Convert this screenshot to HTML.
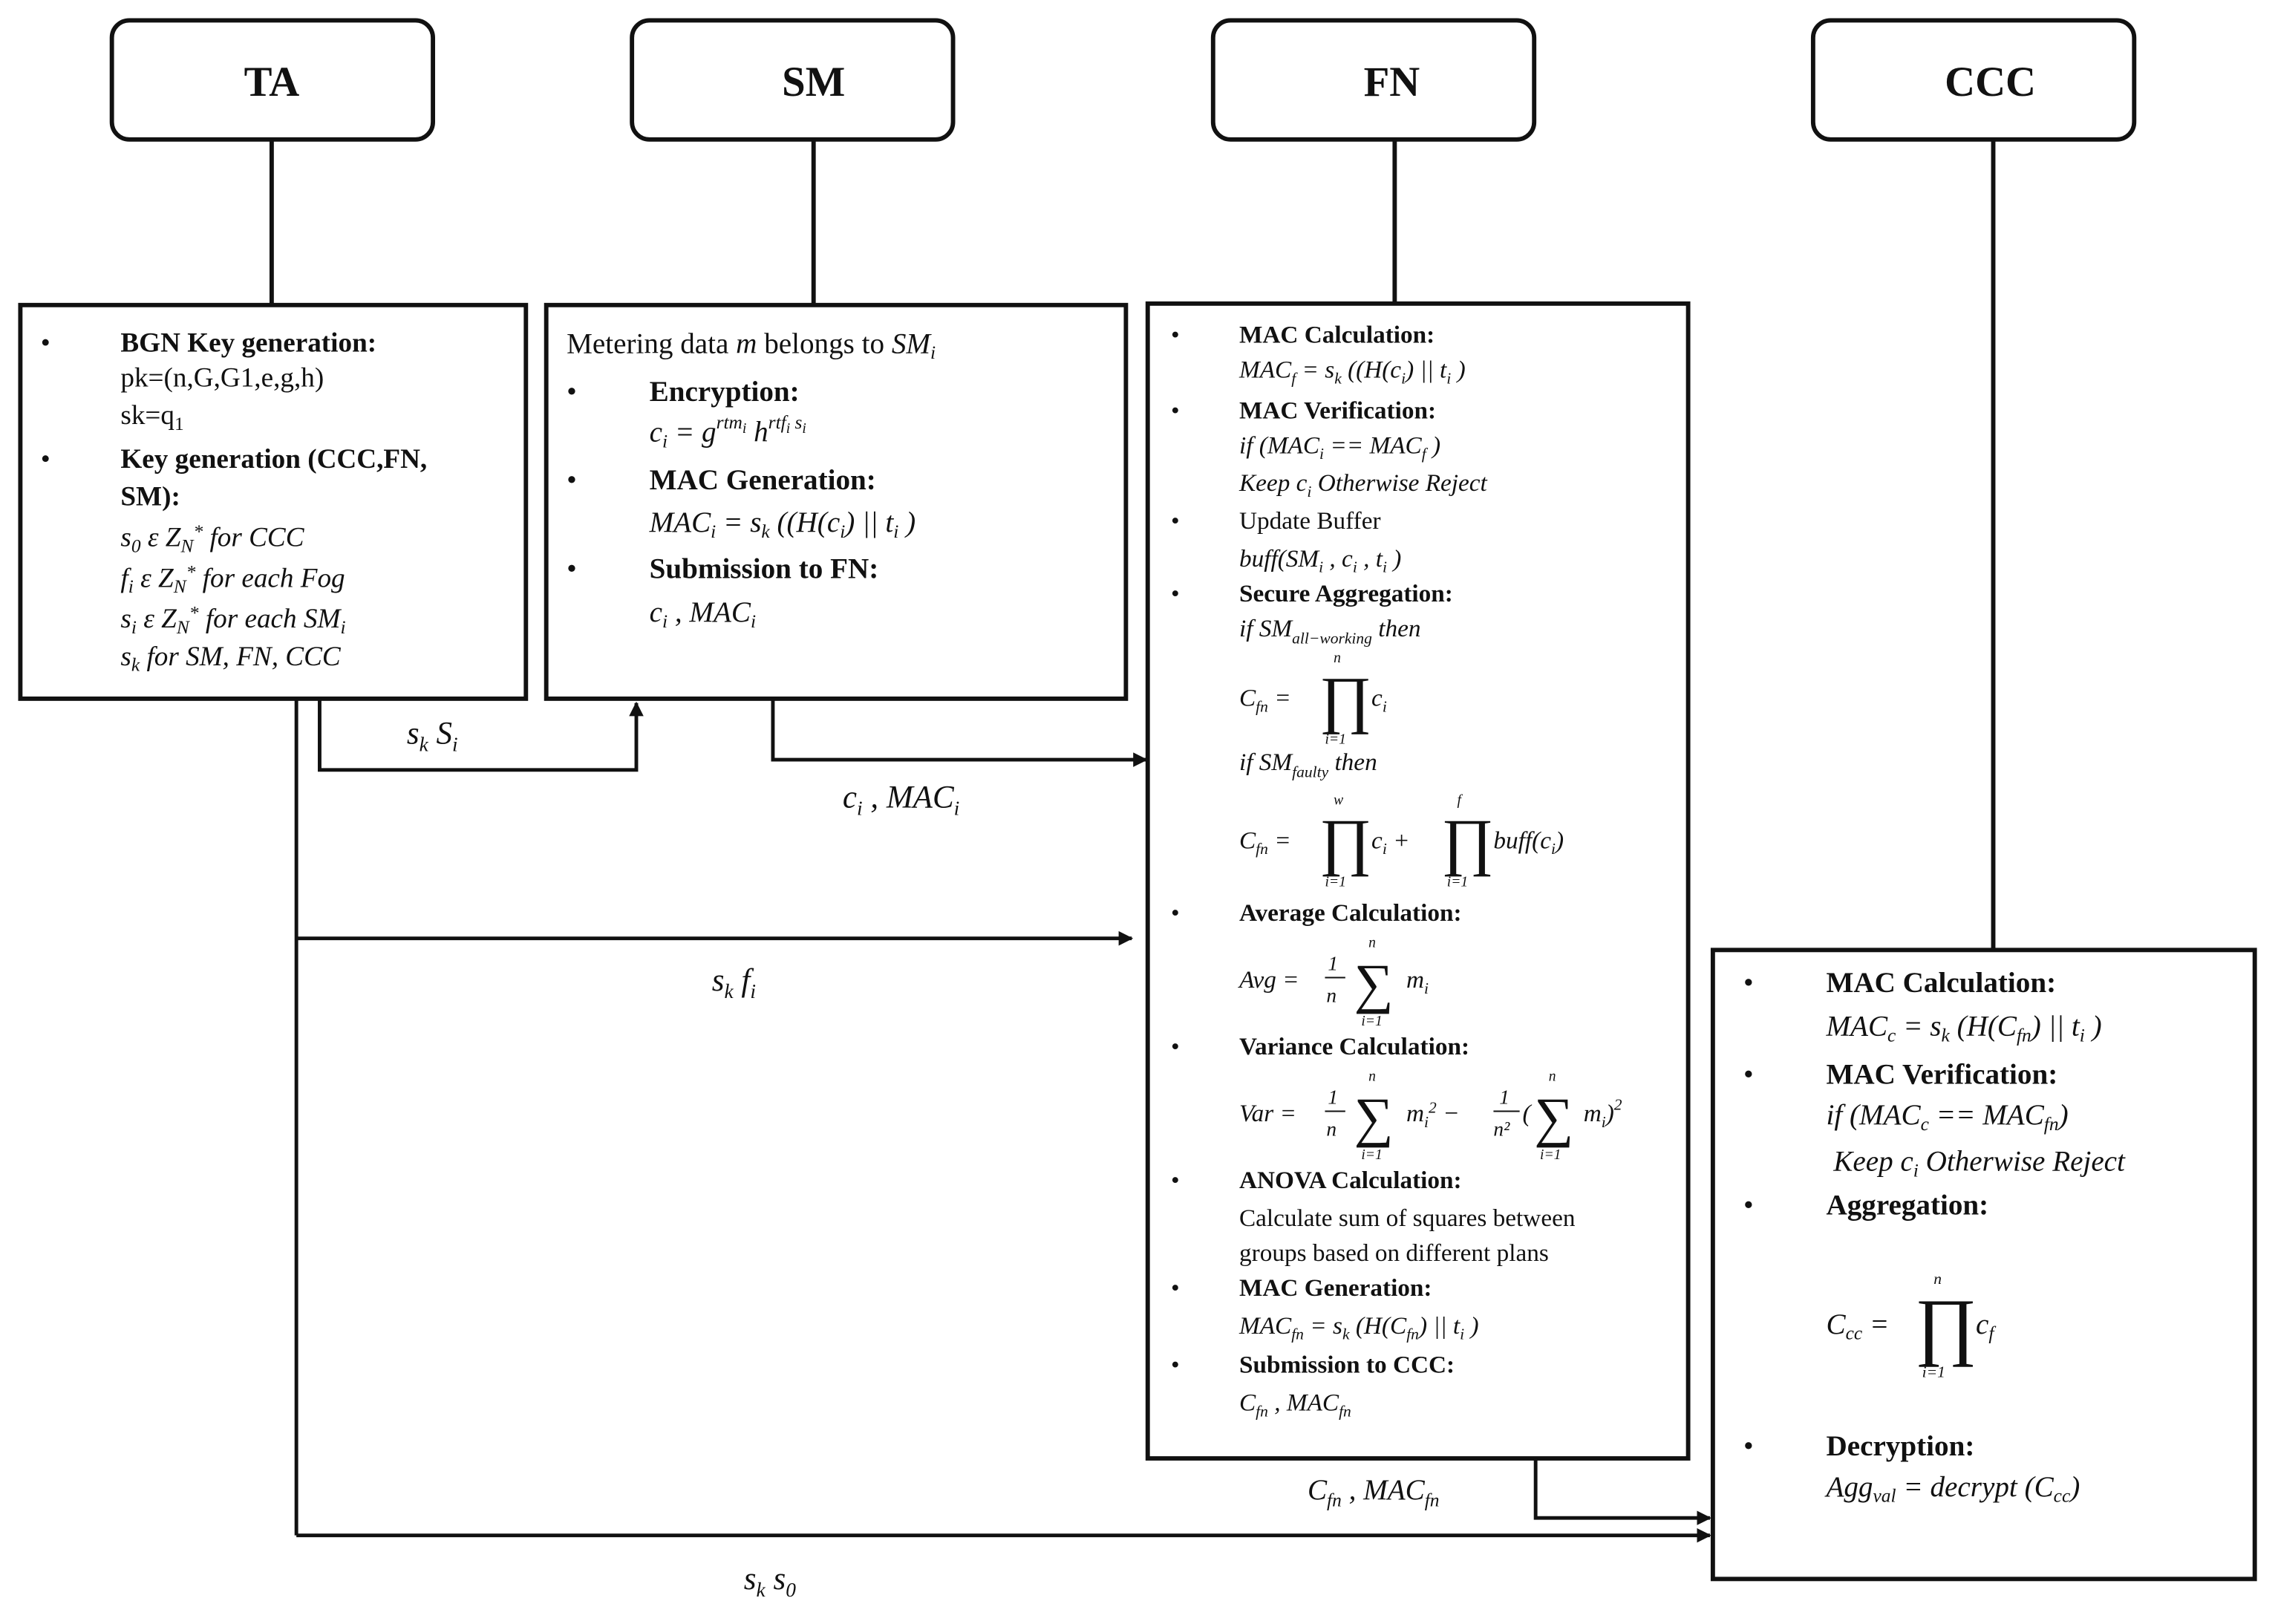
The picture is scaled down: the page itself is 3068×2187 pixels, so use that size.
<!DOCTYPE html>
<html><head><meta charset="utf-8"><style>
html,body{margin:0;padding:0;background:#fff;}
svg{display:block;}
text{font-family:"Liberation Serif",serif;fill:#111;}
.h{font-size:29px;font-weight:bold;}
.b{font-weight:bold;}
.m{font-style:italic;}
</style></head><body>
<svg width="3068" height="2187" viewBox="0 0 1568 1118" preserveAspectRatio="none" xmlns="http://www.w3.org/2000/svg">
<defs><marker id="a" markerWidth="10" markerHeight="10" refX="9" refY="5" orient="auto" markerUnits="userSpaceOnUse"><path d="M0,0 L10,5 L0,10 z" fill="#111"/></marker></defs>
<g fill="none" stroke="#111" stroke-width="3">
<rect x="77" y="14" width="221" height="82" rx="12"/>
<rect x="435" y="14" width="221" height="82" rx="12"/>
<rect x="835" y="14" width="221" height="82" rx="12"/>
<rect x="1248" y="14" width="221" height="82" rx="12"/>
<line x1="187" y1="96" x2="187" y2="210"/>
<line x1="560" y1="96" x2="560" y2="210"/>
<line x1="960" y1="96" x2="960" y2="209"/>
<line x1="1372" y1="96" x2="1372" y2="654"/>
<rect x="14" y="210" width="348" height="271"/>
<rect x="376" y="210" width="399" height="271"/>
<rect x="790" y="209" width="372" height="795"/>
<rect x="1179" y="654" width="373" height="433"/>
</g>
<g fill="none" stroke="#111" stroke-width="2.5">
<polyline points="220,481 220,530 438,530 438,484" marker-end="url(#a)"/>
<polyline points="532,481 532,523 789,523" marker-end="url(#a)"/>
<line x1="204" y1="481" x2="204" y2="1057"/>
<line x1="204" y1="646" x2="779" y2="646" marker-end="url(#a)"/>
<line x1="204" y1="1057" x2="1177" y2="1057" marker-end="url(#a)"/>
<polyline points="1057,1004 1057,1045 1177,1045" marker-end="url(#a)"/>
</g>
<text class="h" x="187" y="66" text-anchor="middle">TA</text>
<text class="h" x="560" y="66" text-anchor="middle">SM</text>
<text class="h" x="958" y="66" text-anchor="middle">FN</text>
<text class="h" x="1370" y="66" text-anchor="middle">CCC</text>

<g font-size="22" class="m">
<text x="280" y="512" class="m">s<tspan font-size="14" dy="5">k</tspan><tspan dy="-5"> S</tspan><tspan font-size="14" dy="5">i</tspan></text>
<text x="580" y="556" class="m">c<tspan font-size="14" dy="5">i</tspan><tspan dy="-5"> , MAC</tspan><tspan font-size="14" dy="5">i</tspan></text>
<text x="490" y="682" class="m">s<tspan font-size="14" dy="5">k</tspan><tspan dy="-5"> f</tspan><tspan font-size="14" dy="5">i</tspan></text>
<text x="512" y="1094" class="m">s<tspan font-size="14" dy="5">k</tspan><tspan dy="-5"> s</tspan><tspan font-size="14" dy="5">0</tspan></text>
<text x="900" y="1032" class="m" font-size="20">C<tspan font-size="13" dy="5">fn</tspan><tspan dy="-5"> , MAC</tspan><tspan font-size="13" dy="5">fn</tspan></text>
</g>

<!-- TA content -->
<g font-size="19">
<text x="28" y="242">•</text><text x="83" y="242" class="b">BGN Key generation:</text>
<text x="83" y="266">pk=(n,G,G1,e,g,h)</text>
<text x="83" y="292">sk=q<tspan font-size="13" dy="4">1</tspan></text>
<text x="28" y="322">•</text><text x="83" y="322" class="b">Key generation  (CCC,FN,</text>
<text x="83" y="348" class="b">SM):</text>
<text x="83" y="376" class="m">s<tspan font-size="13" dy="4">0</tspan><tspan dy="-4"> ε Z</tspan><tspan font-size="13" dy="4">N</tspan><tspan font-size="13" dy="-10">*</tspan><tspan dy="6"> for CCC</tspan></text>
<text x="83" y="404" class="m">f<tspan font-size="13" dy="4">i</tspan><tspan dy="-4"> ε Z</tspan><tspan font-size="13" dy="4">N</tspan><tspan font-size="13" dy="-10">*</tspan><tspan dy="6"> for each Fog</tspan></text>
<text x="83" y="432" class="m">s<tspan font-size="13" dy="4">i</tspan><tspan dy="-4"> ε Z</tspan><tspan font-size="13" dy="4">N</tspan><tspan font-size="13" dy="-10">*</tspan><tspan dy="6"> for each SM</tspan><tspan font-size="13" dy="4">i</tspan></text>
<text x="83" y="458" class="m">s<tspan font-size="13" dy="4">k</tspan><tspan dy="-4"> for SM, FN, CCC</tspan></text>
</g>

<!-- SM content -->
<g font-size="20">
<text x="390" y="243">Metering data <tspan class="m">m</tspan> belongs to <tspan class="m">SM</tspan><tspan font-size="13" dy="4" class="m">i</tspan></text>
<text x="390" y="276">•</text><text x="447" y="276" class="b">Encryption:</text>
<text x="447" y="304" class="m">c<tspan font-size="13" dy="4">i</tspan><tspan dy="-4"> = g</tspan><tspan font-size="13" dy="-9">rtm</tspan><tspan font-size="10" dy="3">i</tspan><tspan dy="6"> h</tspan><tspan font-size="13" dy="-9">rtf</tspan><tspan font-size="10" dy="3">i</tspan><tspan font-size="13" dy="-3"> s</tspan><tspan font-size="10" dy="3">i</tspan></text>
<text x="390" y="337">•</text><text x="447" y="337" class="b">MAC Generation:</text>
<text x="447" y="366" class="m">MAC<tspan font-size="13" dy="4">i</tspan><tspan dy="-4"> = s</tspan><tspan font-size="13" dy="4">k</tspan><tspan dy="-4"> ((H(c</tspan><tspan font-size="13" dy="4">i</tspan><tspan dy="-4">) || t</tspan><tspan font-size="13" dy="4">i</tspan><tspan dy="-4"> )</tspan></text>
<text x="390" y="398">•</text><text x="447" y="398" class="b">Submission  to FN:</text>
<text x="447" y="428" class="m">c<tspan font-size="13" dy="4">i</tspan><tspan dy="-4"> , MAC</tspan><tspan font-size="13" dy="4">i</tspan></text>
</g>

<!-- FN content -->
<g font-size="17">
<text x="806" y="236">•</text><text x="853" y="236" class="b">MAC Calculation:</text>
<text x="853" y="260" class="m">MAC<tspan font-size="11" dy="4">f</tspan><tspan dy="-4"> = s</tspan><tspan font-size="11" dy="4">k</tspan><tspan dy="-4"> ((H(c</tspan><tspan font-size="11" dy="4">i</tspan><tspan dy="-4">) || t</tspan><tspan font-size="11" dy="4">i</tspan><tspan dy="-4"> )</tspan></text>
<text x="806" y="288">•</text><text x="853" y="288" class="b">MAC Verification:</text>
<text x="853" y="312" class="m">if (MAC<tspan font-size="11" dy="4">i</tspan><tspan dy="-4"> == MAC</tspan><tspan font-size="11" dy="4">f</tspan><tspan dy="-4"> )</tspan></text>
<text x="853" y="338" class="m">Keep c<tspan font-size="11" dy="4">i</tspan><tspan dy="-4"> Otherwise Reject</tspan></text>
<text x="806" y="364">•</text><text x="853" y="364">Update Buffer</text>
<text x="853" y="390" class="m">buff(SM<tspan font-size="11" dy="4">i</tspan><tspan dy="-4"> , c</tspan><tspan font-size="11" dy="4">i</tspan><tspan dy="-4"> , t</tspan><tspan font-size="11" dy="4">i</tspan><tspan dy="-4"> )</tspan></text>
<text x="806" y="414">•</text><text x="853" y="414" class="b">Secure Aggregation:</text>
<text x="853" y="438" class="m">if SM<tspan font-size="11" dy="5">all−working</tspan><tspan dy="-5"> then</tspan></text>
<text x="853" y="486" class="m">C<tspan font-size="11" dy="4">fn</tspan><tspan dy="-4"> = </tspan></text>
<text x="908" y="496" font-size="44">∏</text><text x="944" y="486" class="m">c<tspan font-size="11" dy="4">i</tspan></text>
<text x="918" y="456" font-size="10" class="m">n</text><text x="912" y="512" font-size="10" class="m">i=1</text>
<text x="853" y="530" class="m">if SM<tspan font-size="11" dy="5">faulty</tspan><tspan dy="-5"> then</tspan></text>
<text x="853" y="584" class="m">C<tspan font-size="11" dy="4">fn</tspan><tspan dy="-4"> = </tspan></text>
<text x="908" y="594" font-size="44">∏</text><text x="944" y="584" class="m">c<tspan font-size="11" dy="4">i</tspan><tspan dy="-4">  +</tspan></text>
<text x="918" y="554" font-size="10" class="m">w</text><text x="912" y="610" font-size="10" class="m">i=1</text>
<text x="992" y="594" font-size="44">∏</text><text x="1028" y="584" class="m">buff(c<tspan font-size="11" dy="4">i</tspan><tspan dy="-4">)</tspan></text>
<text x="1003" y="554" font-size="10" class="m">f</text><text x="996" y="610" font-size="10" class="m">i=1</text>
<text x="806" y="634">•</text><text x="853" y="634" class="b">Average Calculation:</text>
<text x="853" y="680" class="m">Avg = </text>
<text x="914" y="668" font-size="14" class="m">1</text><line x1="912" y1="673" x2="926" y2="673" stroke="#111" stroke-width="1"/><text x="913" y="690" font-size="14" class="m">n</text>
<text x="932" y="690" font-size="38">∑</text><text x="968" y="680" class="m">m<tspan font-size="11" dy="4">i</tspan></text>
<text x="942" y="652" font-size="10" class="m">n</text><text x="937" y="706" font-size="10" class="m">i=1</text>
<text x="806" y="726">•</text><text x="853" y="726" class="b">Variance Calculation:</text>
<text x="853" y="772" class="m">Var = </text>
<text x="914" y="760" font-size="14" class="m">1</text><line x1="912" y1="765" x2="926" y2="765" stroke="#111" stroke-width="1"/><text x="913" y="782" font-size="14" class="m">n</text>
<text x="932" y="782" font-size="38">∑</text><text x="968" y="772" class="m">m<tspan font-size="11" dy="4">i</tspan><tspan font-size="11" dy="-10">2</tspan><tspan dy="6"> − </tspan></text>
<text x="942" y="744" font-size="10" class="m">n</text><text x="937" y="798" font-size="10" class="m">i=1</text>
<text x="1032" y="760" font-size="14" class="m">1</text><line x1="1028" y1="765" x2="1046" y2="765" stroke="#111" stroke-width="1"/><text x="1028" y="782" font-size="14" class="m">n²</text>
<text x="1048" y="772" class="m">(</text><text x="1056" y="782" font-size="38">∑</text><text x="1090" y="772" class="m">m<tspan font-size="11" dy="4">i</tspan><tspan dy="-4">)</tspan><tspan font-size="11" dy="-8">2</tspan></text>
<text x="1066" y="744" font-size="10" class="m">n</text><text x="1060" y="798" font-size="10" class="m">i=1</text>
<text x="806" y="818">•</text><text x="853" y="818" class="b">ANOVA Calculation:</text>
<text x="853" y="844">Calculate  sum  of squares  between</text>
<text x="853" y="868">groups based on different plans</text>
<text x="806" y="892">•</text><text x="853" y="892" class="b">MAC Generation:</text>
<text x="853" y="918" class="m">MAC<tspan font-size="11" dy="4">fn</tspan><tspan dy="-4"> = s</tspan><tspan font-size="11" dy="4">k</tspan><tspan dy="-4"> (H(C</tspan><tspan font-size="11" dy="4">fn</tspan><tspan dy="-4">) || t</tspan><tspan font-size="11" dy="4">i</tspan><tspan dy="-4"> )</tspan></text>
<text x="806" y="945">•</text><text x="853" y="945" class="b">Submission to CCC:</text>
<text x="853" y="971" class="m">C<tspan font-size="11" dy="4">fn</tspan><tspan dy="-4"> , MAC</tspan><tspan font-size="11" dy="4">fn</tspan></text>
</g>

<!-- CCC content -->
<g font-size="20">
<text x="1200" y="683">•</text><text x="1257" y="683" class="b">MAC Calculation:</text>
<text x="1257" y="713" class="m">MAC<tspan font-size="13" dy="4">c</tspan><tspan dy="-4"> = s</tspan><tspan font-size="13" dy="4">k</tspan><tspan dy="-4"> (H(C</tspan><tspan font-size="13" dy="4">fn</tspan><tspan dy="-4">) || t</tspan><tspan font-size="13" dy="4">i</tspan><tspan dy="-4"> )</tspan></text>
<text x="1200" y="746">•</text><text x="1257" y="746" class="b">MAC Verification:</text>
<text x="1257" y="774" class="m">if (MAC<tspan font-size="13" dy="4">c</tspan><tspan dy="-4"> == MAC</tspan><tspan font-size="13" dy="4">fn</tspan><tspan dy="-4">)</tspan></text>
<text x="1262" y="806" class="m">Keep c<tspan font-size="13" dy="4">i</tspan><tspan dy="-4"> Otherwise Reject</tspan></text>
<text x="1200" y="836">•</text><text x="1257" y="836" class="b">Aggregation:</text>
<text x="1257" y="918" class="m">C<tspan font-size="13" dy="4">cc</tspan><tspan dy="-4"> =</tspan></text>
<text x="1318" y="930" font-size="52">∏</text><text x="1360" y="918" class="m">c<tspan font-size="13" dy="4">f</tspan></text>
<text x="1331" y="884" font-size="11" class="m">n</text><text x="1323" y="948" font-size="11" class="m">i=1</text>
<text x="1200" y="1002">•</text><text x="1257" y="1002" class="b">Decryption:</text>
<text x="1257" y="1030" class="m">Agg<tspan font-size="13" dy="4">val</tspan><tspan dy="-4"> = decrypt (C</tspan><tspan font-size="13" dy="4">cc</tspan><tspan dy="-4">)</tspan></text>
</g>
</svg>
</body></html>
